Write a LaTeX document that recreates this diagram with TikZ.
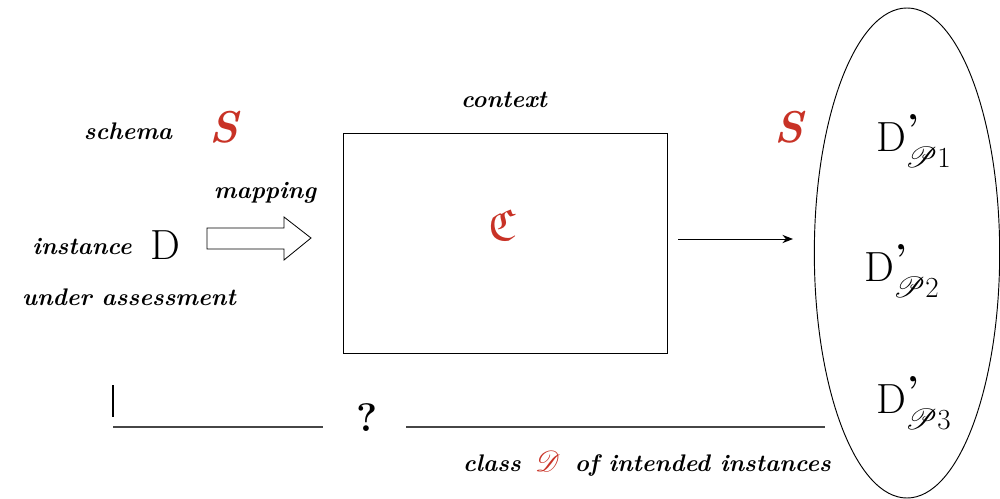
\documentclass[tikz,border=0pt]{standalone}
\usepackage{amssymb}
\usepackage{mathrsfs}
\usetikzlibrary{shapes.geometric,arrows.meta}
\definecolor{accent}{RGB}{200,50,38}
\definecolor{rule}{RGB}{70,70,70}
\tikzset{
  lbl/.style={font=\fontsize{20.5}{24}\selectfont\bfseries\itshape, inner sep=0pt},
  sym/.style={text=accent, inner sep=0pt},
  inst/.style={font=\fontsize{36}{40}\selectfont, inner sep=0pt},
  sepline/.style={draw=rule, line width=1.6pt},
}
\newcommand{\dprime}[1]{D\kern1pt$^{\mbox{\bfseries\fontsize{32}{32}\selectfont ’}}_{\kern-2pt\mathscr{P}#1}$}
\begin{document}
\begin{tikzpicture}[x=0.03cm, y=-0.03cm]
  \useasboundingbox (0,0) rectangle (1000,498);

  % left side: schema and the instance being assessed
  \node[lbl] (schema) at (128,131) {schema};
  \node[sym, font=\fontsize{38}{40}\selectfont\bfseries\itshape] (s1) at (224,127) {S};
  \node[lbl] (mapping) at (265,193) {mapping};
  \node[lbl] (instance) at (82,246) {instance};
  \node[inst] (d) at (165,245) {D};
  \node[lbl] (under) at (129,297) {under assessment};

  % hollow mapping arrow
  \draw[line width=0.7pt] (207,228) -- (284,228) -- (284,217) -- (311,238)
        -- (284,260) -- (284,249) -- (207,249) -- cycle;

  % context box
  \node[lbl] (ctxlabel) at (504,100) {context};
  \node[draw, line width=0.8pt, minimum width=9.72cm, minimum height=6.6cm,
        inner sep=0pt] (ctx) at (505,243) {};
  \node[sym, font=\fontsize{38}{40}\selectfont] (c) at (502,225) {$\mathfrak{C}$};

  % class of intended instances
  \node[sym, font=\fontsize{38}{40}\selectfont\bfseries\itshape] (s2) at (789,127) {S};
  \node[draw, ellipse, line width=0.8pt, minimum width=5.56cm, minimum height=14.7cm,
        inner sep=0pt] (cls) at (907,253) {};
  \node[inst] (d1) at (914,141) {\dprime{1}};
  \node[inst] (d2) at (902,271) {\dprime{2}};
  \node[inst] (d3) at (914,403) {\dprime{3}};

  \coordinate (aout) at (678,239);
  \coordinate (ain) at (793,239);
  \draw[line width=0.8pt, -{Stealth[length=9pt, width=7pt]}] (aout) -- (ain);

  % open question between the instance and the class
  \coordinate (tickt) at (113,385);
  \coordinate (tickb) at (113,417);
  \draw[line width=1pt] (tickt) -- (tickb);
  \coordinate (l1a) at (113,427);
  \coordinate (l1b) at (323,427);
  \coordinate (l2a) at (406,427);
  \coordinate (l2b) at (825,427);
  \draw[sepline] (l1a) -- (l1b);
  \node[font=\fontsize{34}{36}\selectfont\bfseries, inner sep=0pt] (q) at (367,418) {?};
  \draw[sepline] (l2a) -- (l2b);

  \node[lbl] (classlbl) at (647,464)
    {class\hspace{0.6em}\textcolor{accent}{\fontsize{32}{32}\selectfont$\mathscr{D}$}\hspace{0.6em}of intended instances};
\end{tikzpicture}
\end{document}
